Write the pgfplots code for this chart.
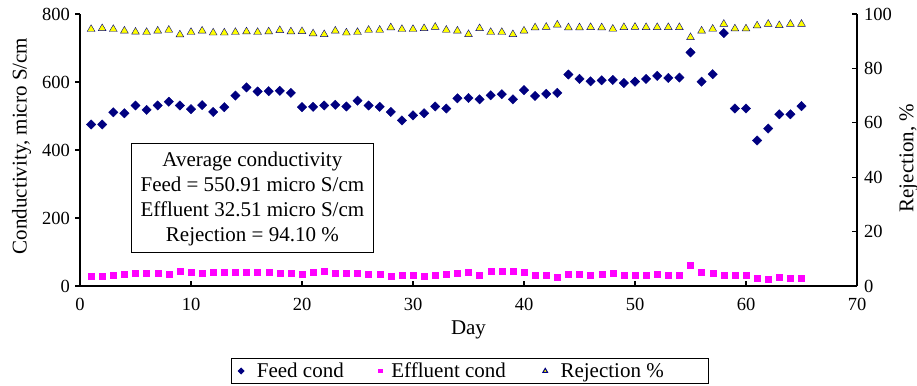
\documentclass[border=0pt]{standalone}
\usepackage{pgfplots}
\usepackage{pgfplotstable}
\pgfplotsset{compat=1.18}
\usepackage{fontspec}
\setmainfont{Liberation Serif}
\definecolor{navyc}{RGB}{0,0,128}
\definecolor{magc}{RGB}{255,0,255}
\definecolor{yelc}{RGB}{255,255,0}
\newcommand{\txt}{\fontsize{21}{26}\selectfont}
\newcommand{\boxtxt}{\fontsize{21}{25}\selectfont}
\newcommand{\tck}{\fontsize{18.5}{22}\selectfont}
\pgfplotstableread{
day feed eff rej
1 475 27.4 94.4
2 475 27.4 94.7
3 511 31.4 94.4
4 508 33.3 93.8
5 531 37.3 93.4
6 518 38.2 93.3
7 531 36.3 93.8
8 542 34.3 94.1
9 531 43.1 92.4
10 520 39.2 93.3
11 532 36.3 93.8
12 512 39.2 93.1
13 526 39.2 93.1
14 560 41.2 93.3
15 584 40.2 93.5
16 572 41.2 93.3
17 573 40.2 93.5
18 574 37.3 94.0
19 568 38.2 93.5
20 526 35.3 93.6
21 527 40.2 92.8
22 531 42.2 92.5
23 533 37.3 93.8
24 528 38.2 93.1
25 545 38.2 93.3
26 531 33.3 94.1
27 527 34.3 94.1
28 512 29.4 95.0
29 487 30.4 94.4
30 502 30.4 94.4
31 508 29.4 94.7
32 528 30.4 95.2
33 522 33.3 94.1
34 552 37.3 93.8
35 553 41.2 92.5
36 549 32.4 94.7
37 561 42.2 93.3
38 564 42.2 93.3
39 549 44.1 92.5
40 576 39.2 93.8
41 559 30.4 95.0
42 565 30.4 95.2
43 568 26.5 96.0
44 622 35.3 95.0
45 609 34.3 95.0
46 602 32.4 95.1
47 605 33.3 95.0
48 606 36.3 94.5
49 597 32.4 95.1
50 601 31.4 95.2
51 609 32.4 95.1
52 618 33.3 95.1
53 612 32.4 95.1
54 613 32.4 95.1
55 687 61.8 91.4
56 601 41.2 93.8
57 623 36.3 94.5
58 744 30.4 96.3
59 522 30.4 94.6
60 522 30.4 94.6
61 428 21.6 95.7
62 463 19.6 96.3
63 505 24.5 95.8
64 505 23.5 96.3
65 529 23.5 96.3
}\data
\begin{document}
\begin{tikzpicture}
\useasboundingbox (0,0) rectangle (917pt,385pt);
\begin{axis}[
  at={(80pt,99pt)}, anchor=south west,
  width=777pt, height=272pt, scale only axis,
  xmin=0, xmax=70, ymin=0, ymax=800,
  axis x line=bottom, axis y line=left,
  every inner x axis line/.append style={-},
  every outer x axis line/.append style={-},
  every inner y axis line/.append style={-},
  every outer y axis line/.append style={-},
  axis line style={-, line width=1.3pt, black},
  xtick={0,10,...,70}, ytick={0,200,...,800},
  tick align=inside, major tick length=5pt,
  tick style={line width=1.1pt, black},
  ytick style={xshift=-5pt},
  /pgf/number format/assume math mode=true,
  ticklabel style={font=\tck},
  yticklabel style={inner sep=0pt, xshift=-10pt},
  xticklabel style={inner sep=0pt, yshift=-12pt},
  xlabel={Day}, ylabel={Conductivity, micro S/cm},
  label style={font=\txt},
  xlabel style={at={(axis description cs:0.5,-0.180)}, anchor=base},
  ylabel style={at={(axis description cs:-0.0753,0.515)}, anchor=center},
  legend columns=3,
  legend style={at={(axis description cs:0.502,-0.3125)}, anchor=center,
    font=\txt, draw=black, line width=1pt, inner xsep=7pt},
  legend image post style={/tikz/every mark/.append style={scale=0.6}},
]
\addplot[only marks, mark=square*, mark size=3.3pt, color=navyc, mark options={rotate=45}] table[x=day,y=feed]{\data};
\addlegendentry{\rule{11pt}{0pt}Feed cond\rule{33pt}{0pt}}
\addplot[only marks, mark=square*, mark size=3pt, color=magc] table[x=day,y=eff]{\data};
\addlegendentry{\rule{7pt}{0pt}Effluent cond\rule{35pt}{0pt}}
\addlegendimage{only marks, mark=triangle*, mark size=4.5pt, color=navyc, mark options={fill=yelc}}
\addlegendentry{\rule{11pt}{0pt}Rejection \%\rule{36pt}{0pt}}
\node[draw, line width=1pt, align=center, font=\boxtxt, minimum width=242pt, minimum height=109pt, inner sep=0pt] at (axis cs:15.53,257.4) {Average conductivity\\Feed = 550.91 micro S/cm\\Effluent 32.51 micro S/cm\\Rejection = 94.10 \%};
\end{axis}
\begin{axis}[
  at={(80pt,99pt)}, anchor=south west,
  width=777pt, height=272pt, scale only axis,
  xmin=0, xmax=70, ymin=0, ymax=100,
  axis x line=none, axis y line=right,
  every inner y axis line/.append style={-},
  every outer y axis line/.append style={-},
  axis line style={-, line width=1.3pt, black},
  ytick={0,20,...,100},
  tick align=inside, major tick length=5pt,
  tick style={line width=1.1pt, black},
  /pgf/number format/assume math mode=true,
  yticklabel style={inner sep=0pt, xshift=7pt, font=\tck},
  ylabel={Rejection, \%},
  ylabel style={at={(axis description cs:1.0663,0.47)}, anchor=center, font=\txt, rotate=0},
]
\addplot[only marks, mark=triangle*, mark size=4.5pt, color=navyc, mark options={fill=yelc}] table[x=day,y=rej]{\data};
\end{axis}
\end{tikzpicture}
\end{document}
